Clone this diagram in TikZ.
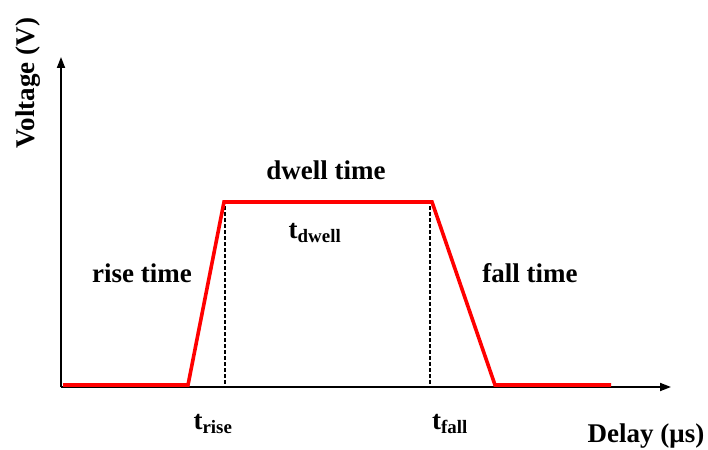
\documentclass[tikz,border=0pt]{standalone}
\usepackage{fontspec}
\setmainfont{Liberation Serif}
\usetikzlibrary{arrows.meta}
\begin{document}
\begin{tikzpicture}[x=1pt,y=-1pt,
  axis/.style={line width=1.8pt,-{Triangle[length=11pt,width=8pt]}},
  sig/.style={red,line width=3.6pt,line join=miter},
  guide/.style={line width=1.1pt,dash pattern=on 3.5pt off 2.5pt},
  lbl/.style={font=\bfseries\fontsize{27}{30}\selectfont,inner sep=0pt},
  tl/.style={font=\bfseries\fontsize{27}{30}\selectfont,inner sep=0pt}]
\useasboundingbox (0,0) rectangle (708,449);
\coordinate (O) at (61,387);
\coordinate (ytop) at (61,57);
\coordinate (xend) at (671,387);
\draw[axis] (O) -- (ytop);
\draw[axis] (O) -- (xend);
\coordinate (s0) at (63,385);
\coordinate (s1) at (188,385);
\coordinate (s2) at (224,202);
\coordinate (s3) at (432,202);
\coordinate (s4) at (495,385);
\coordinate (s5) at (611,385);
\coordinate (d1t) at (225,206);
\coordinate (d1b) at (225,386);
\coordinate (d2t) at (430,206);
\coordinate (d2b) at (430,386);
\draw[guide] (d1t) -- (d1b);
\draw[guide] (d2t) -- (d2b);
\draw[sig] (s0) -- (s1) -- (s2) -- (s3) -- (s4) -- (s5);
\node[lbl,rotate=90] (vl) at (28,83) {Voltage (V)};
\node[lbl] (dw) at (326,170) {dwell time};
\node[lbl] (rt) at (142,273) {rise time};
\node[lbl] (ft) at (530,273) {fall time};
\node[tl] (tdw) at (315,233) {t\textsubscript{dwell}};
\node[tl] (tr) at (213,424) {t\textsubscript{rise}};
\node[tl] (tf) at (450,424) {t\textsubscript{fall}};
\node[lbl] (dl) at (646,436) {Delay (μs)};
\end{tikzpicture}
\end{document}
